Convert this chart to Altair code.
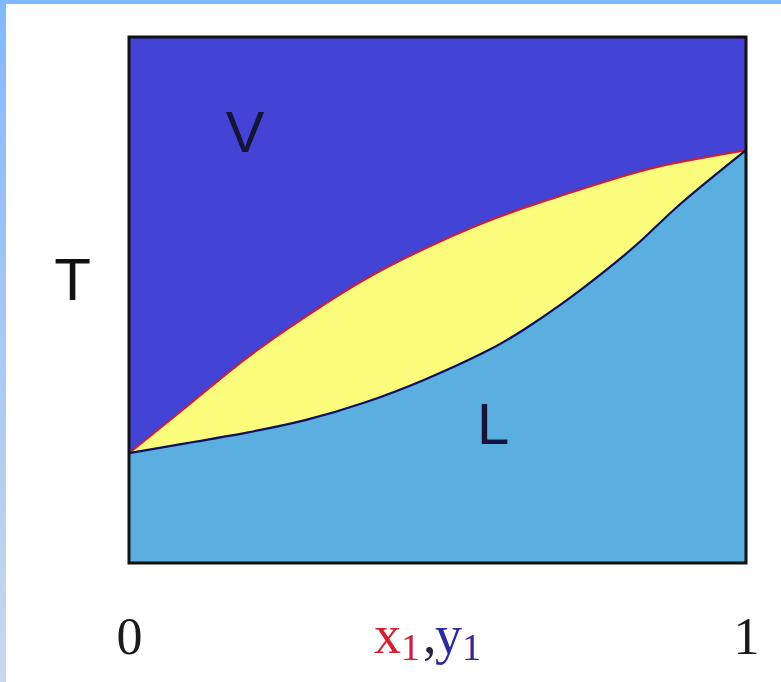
import altair as alt
import pandas as pd

# Dew-point curve (vapour composition y1) and bubble-point curve (liquid x1),
# temperature on a 0-1 scale
dew_y1 = [0.0, 0.095, 0.191, 0.287, 0.382, 0.478, 0.575, 0.670, 0.766, 0.863, 1.0]
dew_T = [0.209, 0.299, 0.390, 0.469, 0.539, 0.597, 0.647, 0.687, 0.723, 0.755, 0.785]

bub_x1 = [0.0, 0.094, 0.191, 0.287, 0.382, 0.478, 0.575, 0.639, 0.703, 0.767, 0.831, 0.895, 1.0]
bub_T = [0.209, 0.228, 0.248, 0.272, 0.305, 0.348, 0.400, 0.443, 0.494, 0.551, 0.614, 0.684, 0.785]

tick_values = [0, 1]
region_labels = ["V", "L"]
region_x = [0.188, 0.59]
region_T = [0.814, 0.258]

W, H = 617, 526
PAD_L, PAD_T = 129, 37

dew = pd.DataFrame({"comp": dew_y1, "T": dew_T})
bub = pd.DataFrame({"comp": bub_x1, "T": bub_T})
regions = pd.DataFrame({"label": region_labels, "comp": region_x, "T": region_T})

xs = alt.Scale(domain=[0, 1], nice=False, zero=False)
ys = alt.Scale(domain=[0, 1], nice=False, zero=False)

x_axis = alt.Axis(values=tick_values, title=None, ticks=False, tickSize=0, domain=False,
                  grid=False, labelFont="Liberation Serif", labelFontSize=52,
                  labelColor="#1a1a1a", labelPadding=90, labelBaseline="alphabetic",
                  labelFlush=False, labelAlign="center", format="d")
y_axis = alt.Axis(labels=False, ticks=False, tickSize=0, domain=False, grid=False,
                  title="T", titleAngle=0, titleFont="Liberation Sans", titleFontSize=60,
                  titleFontWeight="normal", titleColor="#111111",
                  titleX=72 - PAD_L, titleY=281 - PAD_T, titleAlign="center",
                  titleBaseline="middle")

CURVE = "natural"

# two-phase region (below the dew curve) and liquid region (below the bubble curve)
two_phase = alt.Chart(dew).mark_area(color="#fbfb7c", interpolate=CURVE).encode(
    x=alt.X("comp:Q", scale=xs, axis=x_axis),
    y=alt.Y("T:Q", scale=ys, axis=y_axis),
)
liquid = alt.Chart(bub).mark_area(color="#5aaee0", interpolate=CURVE).encode(
    x=alt.X("comp:Q", scale=xs),
    y=alt.Y("T:Q", scale=ys),
)
dew_line = alt.Chart(dew).mark_line(color="#c8203c", strokeWidth=2.2, interpolate=CURVE).encode(
    x=alt.X("comp:Q", scale=xs),
    y=alt.Y("T:Q", scale=ys),
)
bub_line = alt.Chart(bub).mark_line(color="#10105e", strokeWidth=2.2, interpolate=CURVE).encode(
    x=alt.X("comp:Q", scale=xs),
    y=alt.Y("T:Q", scale=ys),
)
labels = alt.Chart(regions).mark_text(
    font="Liberation Sans", fontSize=58, color="#141438", align="center", baseline="middle"
).encode(
    x=alt.X("comp:Q", scale=xs),
    y=alt.Y("T:Q", scale=ys),
    text="label:N",
)
frame = alt.Chart(pd.DataFrame({"a": [0]})).mark_rect(
    filled=False, stroke="#111111", strokeWidth=3
).encode(x=alt.datum(0, scale=xs), x2=alt.datum(1), y=alt.datum(0, scale=ys), y2=alt.datum(1))

# axis title x1,y1 with coloured letters and subscripts
serif = "Liberation Serif"
title_parts = [
    ("x", 245, 616, 54, "#d0222e"),
    ("1", 272, 623, 38, "#d0222e"),
    (",", 294, 616, 54, "#222244"),
    ("y", 306, 616, 54, "#2b2b9e"),
    ("1", 333, 623, 38, "#2b2b9e"),
]
title_layers = [
    alt.Chart(pd.DataFrame({"a": [0]})).mark_text(
        text=t, font=serif, fontSize=fs, color=c, align="left", baseline="alphabetic"
    ).encode(x=alt.value(px), y=alt.value(py))
    for t, px, py, fs, c in title_parts
]

# light blue slide edge at the top and left
top_strip = alt.Chart(pd.DataFrame({"a": [0]})).mark_rect(color="#80b8ff").encode(
    x=alt.value(-PAD_L), x2=alt.value(781 - PAD_L), y=alt.value(-PAD_T), y2=alt.value(4 - PAD_T)
)
left_strip = alt.Chart(pd.DataFrame({"a": [0]})).mark_rect(
    color=alt.LinearGradient(
        gradient="linear", x1=0, x2=0, y1=0, y2=1,
        stops=[alt.GradientStop(color="#80b8ff", offset=0),
               alt.GradientStop(color="#a9c8f4", offset=0.5),
               alt.GradientStop(color="#c9d8ee", offset=1)],
    )
).encode(x=alt.value(-PAD_L), x2=alt.value(6 - PAD_L), y=alt.value(-PAD_T), y2=alt.value(682 - PAD_T))

chart = alt.layer(
    two_phase, liquid, dew_line, bub_line, labels, frame, *title_layers, top_strip, left_strip
).properties(
    width=W, height=H,
    autosize=alt.AutoSizeParams(type="none"),
    padding={"left": PAD_L, "top": PAD_T, "right": 781 - PAD_L - W, "bottom": 682 - PAD_T - H},
    background="white",
).configure_view(fill="#4343d6", stroke=None)

chart.save("out.html", embed_options={"renderer": "svg", "actions": False})
